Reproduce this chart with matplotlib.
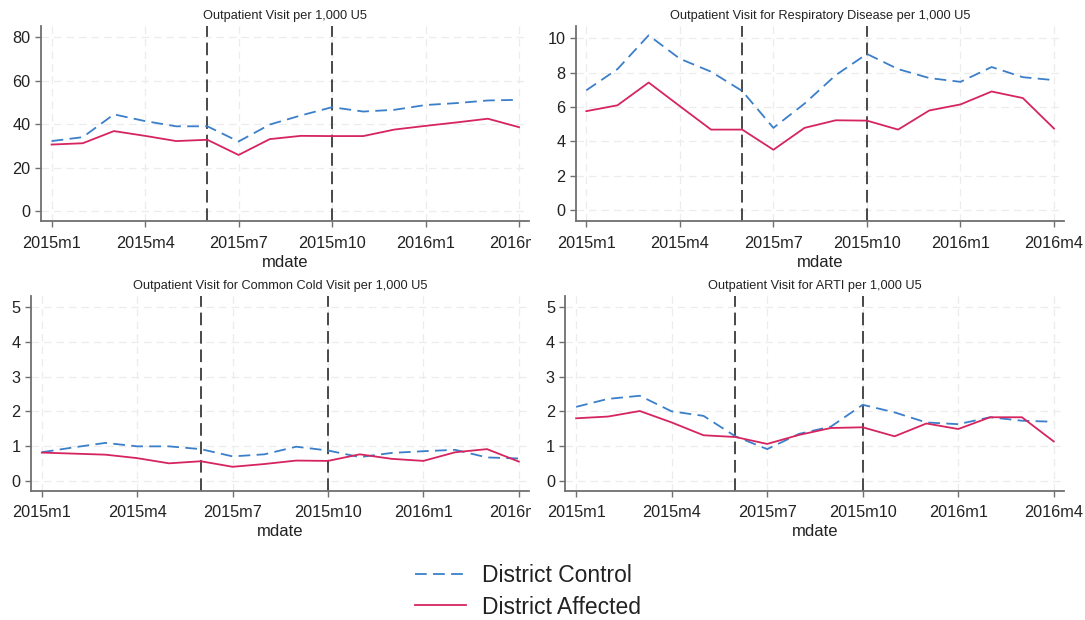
import matplotlib
matplotlib.use("Agg")
import matplotlib.pyplot as plt
from matplotlib.transforms import Bbox, TransformedBbox

plt.rcParams["font.family"] = ["Liberation Sans", "DejaVu Sans"]

# Monthly series, 2015m1 .. 2016m4
months = list(range(16))
tick_pos = [0, 3, 6, 9, 12, 15]
tick_labels = ["2015m1", "2015m4", "2015m7", "2015m10", "2016m1", "2016m4"]
event_months = [5, 9]  # 2015m6 and 2015m10

titles = [
    "Outpatient Visit per 1,000 U5",
    "Outpatient Visit for Respiratory Disease per 1,000 U5",
    "Outpatient Visit for Common Cold Visit per 1,000 U5",
    "Outpatient Visit for ARTI per 1,000 U5",
]

visit_control = [32.2, 34.0, 44.5, 41.4, 39.0, 39.0, 32.0, 39.8,
                 44.0, 47.8, 45.8, 46.6, 48.8, 49.7, 50.9, 51.2]
visit_affected = [30.6, 31.2, 36.8, 34.6, 32.2, 32.8, 25.8, 33.1,
                  34.6, 34.5, 34.5, 37.5, 39.2, 40.8, 42.5, 38.6]

resp_control = [6.97, 8.2, 10.16, 8.8, 8.05, 6.93, 4.79, 6.2,
                7.85, 9.08, 8.2, 7.68, 7.46, 8.32, 7.73, 7.56]
resp_affected = [5.76, 6.1, 7.42, 6.05, 4.69, 4.69, 3.52, 4.79,
                 5.23, 5.21, 4.69, 5.8, 6.15, 6.9, 6.52, 4.75]

cold_control = [0.82, 0.96, 1.09, 0.99, 0.99, 0.91, 0.70, 0.76,
                0.98, 0.87, 0.68, 0.80, 0.85, 0.89, 0.67, 0.64]
cold_affected = [0.81, 0.78, 0.75, 0.65, 0.50, 0.56, 0.40, 0.48,
                 0.58, 0.57, 0.76, 0.63, 0.57, 0.82, 0.91, 0.55]

arti_control = [2.13, 2.36, 2.45, 2.0, 1.87, 1.28, 0.91, 1.35,
                1.56, 2.19, 1.97, 1.68, 1.63, 1.83, 1.73, 1.70]
arti_affected = [1.8, 1.85, 2.01, 1.68, 1.31, 1.26, 1.06, 1.32,
                 1.52, 1.54, 1.28, 1.65, 1.49, 1.83, 1.83, 1.13]

y_ticks = [[0, 20, 40, 60, 80], [0, 2, 4, 6, 8, 10], [0, 1, 2, 3, 4, 5], [0, 1, 2, 3, 4, 5]]
y_limits = [(-4.75, 85.2), (-0.63, 10.7), (-0.29, 5.33), (-0.29, 5.33)]

series = [
    (visit_control, visit_affected),
    (resp_control, resp_affected),
    (cold_control, cold_affected),
    (arti_control, arti_affected),
]

W, H = 1085, 620
fig = plt.figure(figsize=(W / 100, H / 100), dpi=100)
fig.patch.set_facecolor("white")

# axes boxes in pixels: left, right, top, bottom
boxes_px = [
    (41, 529.3, 26, 221.3),
    (575.7, 1064.3, 26, 221.3),
    (31, 529.3, 296, 490.7),
    (565.3, 1064.3, 296, 490.7),
]

BLUE = "#3b7fca"
RED = "#d6245f"
AXIS_GREY = "#707070"

axes = []
for i, (l, r, t, b) in enumerate(boxes_px):
    ax = fig.add_axes([l / W, 1 - b / H, (r - l) / W, (b - t) / H])
    axes.append(ax)
    ctrl, aff = series[i]
    for xv in event_months:
        ax.axvline(xv, color="#3a3a3a", lw=1.3, ls=(0, (7, 3.2)), zorder=2)
    ax.plot(months, ctrl, color=BLUE, lw=1.3, ls=(0, (6.5, 3.5)),
            label="District Control", zorder=3)
    ax.plot(months, aff, color=RED, lw=1.3, label="District Affected", zorder=3)

    ax.set_xlim(-0.34, 15.33)
    ax.set_ylim(*y_limits[i])
    ax.set_xticks(tick_pos)
    ax.set_xticklabels(tick_labels)
    ax.set_yticks(y_ticks[i])
    ax.grid(True, color="#ececec", lw=0.9, ls=(0, (6, 4)), zorder=0)
    ax.set_axisbelow(True)
    for side in ("top", "right"):
        ax.spines[side].set_visible(False)
    for side in ("left", "bottom"):
        ax.spines[side].set_color(AXIS_GREY)
        ax.spines[side].set_linewidth(1.3)
    ax.tick_params(axis="both", colors=AXIS_GREY, length=4, width=1.0,
                   labelsize=11.7, labelcolor="#222222")
    ax.tick_params(axis="x", pad=6.5)
    ax.tick_params(axis="y", pad=3.5)
    ax.set_xlabel("mdate", fontsize=12, color="#222222", labelpad=3)
    ax.set_title(titles[i], fontsize=9.2, color="#222222", pad=5)

# each panel of the left column is cut off at its own boundary
clip = TransformedBbox(Bbox([[0, 0], [531 / W, 1]]), fig.transFigure)
for ax in (axes[0], axes[2]):
    for lbl in ax.get_xticklabels():
        lbl.set_clip_box(clip)
        lbl.set_clip_on(True)

handles, labels = axes[0].get_legend_handles_labels()
leg = fig.legend(handles, labels, loc="center", bbox_to_anchor=(528 / W, 1 - 591.5 / H),
                 frameon=False, fontsize=16.5, handlelength=2.2, handletextpad=0.7,
                 labelspacing=0.35, borderpad=0.2)
for txt in leg.get_texts():
    txt.set_color("#222222")

fig.savefig("out.png", dpi=100, facecolor="white")
